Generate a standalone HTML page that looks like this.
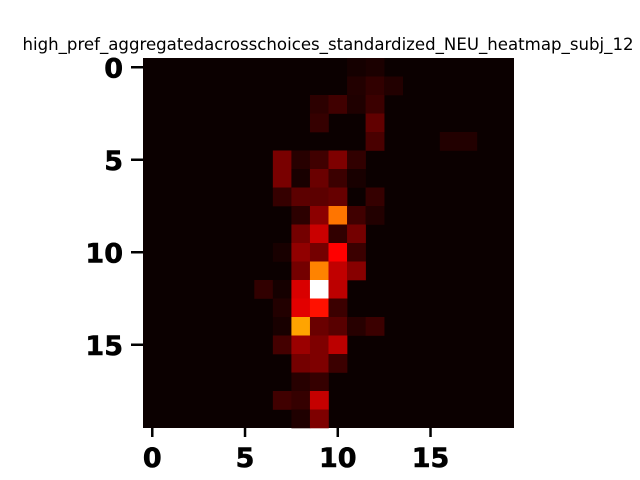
<!DOCTYPE html>
<html><head><meta charset="utf-8"><style>
html,body{margin:0;padding:0;background:#fff;width:640px;height:480px;overflow:hidden}
svg{display:block}
</style></head><body>
<svg id="chart" width="640" height="480" viewBox="0 0 640 480" xmlns="http://www.w3.org/2000/svg">
<text x="328" y="50" text-anchor="middle" font-family="DejaVu Sans, Liberation Sans, sans-serif" font-size="16.6">high_pref_aggregatedacrosschoices_standardized_NEU_heatmap_subj_12</text>
<g id="cells"></g>
<g id="axes"></g>
</svg>
<script>
const nRows = 20, nCols = 20;
const xTicks = [0, 5, 10, 15];
const yTicks = [0, 5, 10, 15];
// sparse nonzero cells: [row, col, value]
const cellRows = [0,0,1,1,1,2,2,2,2,3,3,4,4,4,5,5,5,5,5,6,6,6,6,6,7,7,7,7,7,8,8,8,8,8,9,9,9,9,10,10,10,10,10,11,11,11,11,12,12,12,12,12,13,13,13,13,14,14,14,14,14,14,15,15,15,15,16,16,16,17,17,18,18,18,19,19];
const cellCols = [11,12,11,12,13,9,10,11,12,9,12,12,16,17,7,8,9,10,11,7,8,9,10,11,7,8,9,10,12,8,9,10,11,12,8,9,10,11,7,8,9,10,11,8,9,10,11,6,7,8,9,10,7,8,9,10,7,8,9,10,11,12,7,8,9,10,8,9,10,8,9,7,8,9,8,9];
const cellVals = [0.015,0.025,0.035,0.057,0.035,0.05,0.079,0.03,0.072,0.064,0.129,0.093,0.035,0.035,0.165,0.043,0.079,0.172,0.057,0.165,0.02,0.143,0.072,0.02,0.064,0.122,0.122,0.136,0.064,0.05,0.193,0.54,0.079,0.035,0.157,0.286,0.057,0.157,0.02,0.2,0.157,0.365,0.072,0.157,0.56,0.272,0.186,0.057,0.015,0.308,1.0,0.265,0.035,0.322,0.39,0.072,0.02,0.61,0.143,0.115,0.043,0.072,0.086,0.215,0.172,0.265,0.157,0.172,0.072,0.043,0.064,0.079,0.064,0.279,0.03,0.172];

const X0 = 143, X1 = 514, Y0 = 58, Y1 = 428;
const cw = (X1 - X0) / nCols, ch = (Y1 - Y0) / nRows;
const xCell = c => X0 + c * cw;
const yCell = r => Y0 + r * ch;
const xCenter = c => X0 + (c + 0.5) * cw;
const yCenter = r => Y0 + (r + 0.5) * ch;
function hot(v){
  const r = Math.min(1, 0.0416 + v / 0.365 * 0.9584);
  const g = Math.max(0, Math.min(1, (v - 0.365) / 0.381));
  const b = Math.max(0, Math.min(1, (v - 0.746) / 0.254));
  return `rgb(${Math.round(r*255)},${Math.round(g*255)},${Math.round(b*255)})`;
}
const NS = "http://www.w3.org/2000/svg";
const cells = document.getElementById('cells');
const bg = document.createElementNS(NS, 'rect');


bg.setAttribute('x', X0); bg.setAttribute('y', Y0);
bg.setAttribute('width', X1 - X0); bg.setAttribute('height', Y1 - Y0);
bg.setAttribute('fill', hot(0));
cells.appendChild(bg);
for (let i = 0; i < cellVals.length; i++) {
  const rc = document.createElementNS(NS, 'rect');
  
  
  rc.setAttribute('x', xCell(cellCols[i]).toFixed(2));
  rc.setAttribute('y', yCell(cellRows[i]).toFixed(2));
  rc.setAttribute('width', (cw + 0.3).toFixed(2));
  rc.setAttribute('height', (ch + 0.3).toFixed(2));
  rc.setAttribute('fill', hot(cellVals[i]));
  cells.appendChild(rc);
}
const axes = document.getElementById('axes');
const font = 'DejaVu Sans, Liberation Sans, sans-serif';
xTicks.forEach(t => {
  const x = xCenter(t);
  const ln = document.createElementNS(NS, 'line');
  
  
  ln.setAttribute('x1', x); ln.setAttribute('x2', x);
  ln.setAttribute('y1', Y1); ln.setAttribute('y2', Y1 + 9);
  ln.setAttribute('stroke', '#000'); ln.setAttribute('stroke-width', '2.5');
  axes.appendChild(ln);
  const tx = document.createElementNS(NS, 'text');
  
  
  tx.setAttribute('x', x); tx.setAttribute('y', 467);
  tx.setAttribute('text-anchor', 'middle');
  tx.setAttribute('font-family', font); tx.setAttribute('font-weight', 'bold');
  tx.setAttribute('font-size', '27');
  tx.setAttribute('stroke', '#000'); tx.setAttribute('stroke-width', '0.6');
  tx.textContent = t;
  axes.appendChild(tx);
});
yTicks.forEach(t => {
  const y = yCenter(t);
  const ln = document.createElementNS(NS, 'line');
  
  
  ln.setAttribute('x1', X0 - 12); ln.setAttribute('x2', X0);
  ln.setAttribute('y1', y); ln.setAttribute('y2', y);
  ln.setAttribute('stroke', '#000'); ln.setAttribute('stroke-width', '2.5');
  axes.appendChild(ln);
  const tx = document.createElementNS(NS, 'text');
  
  
  tx.setAttribute('x', X0 - 20); tx.setAttribute('y', y + 10);
  tx.setAttribute('text-anchor', 'end');
  tx.setAttribute('font-family', font); tx.setAttribute('font-weight', 'bold');
  tx.setAttribute('font-size', '27');
  tx.setAttribute('stroke', '#000'); tx.setAttribute('stroke-width', '0.6');
  tx.textContent = t;
  axes.appendChild(tx);
});
</script>
</body></html>
